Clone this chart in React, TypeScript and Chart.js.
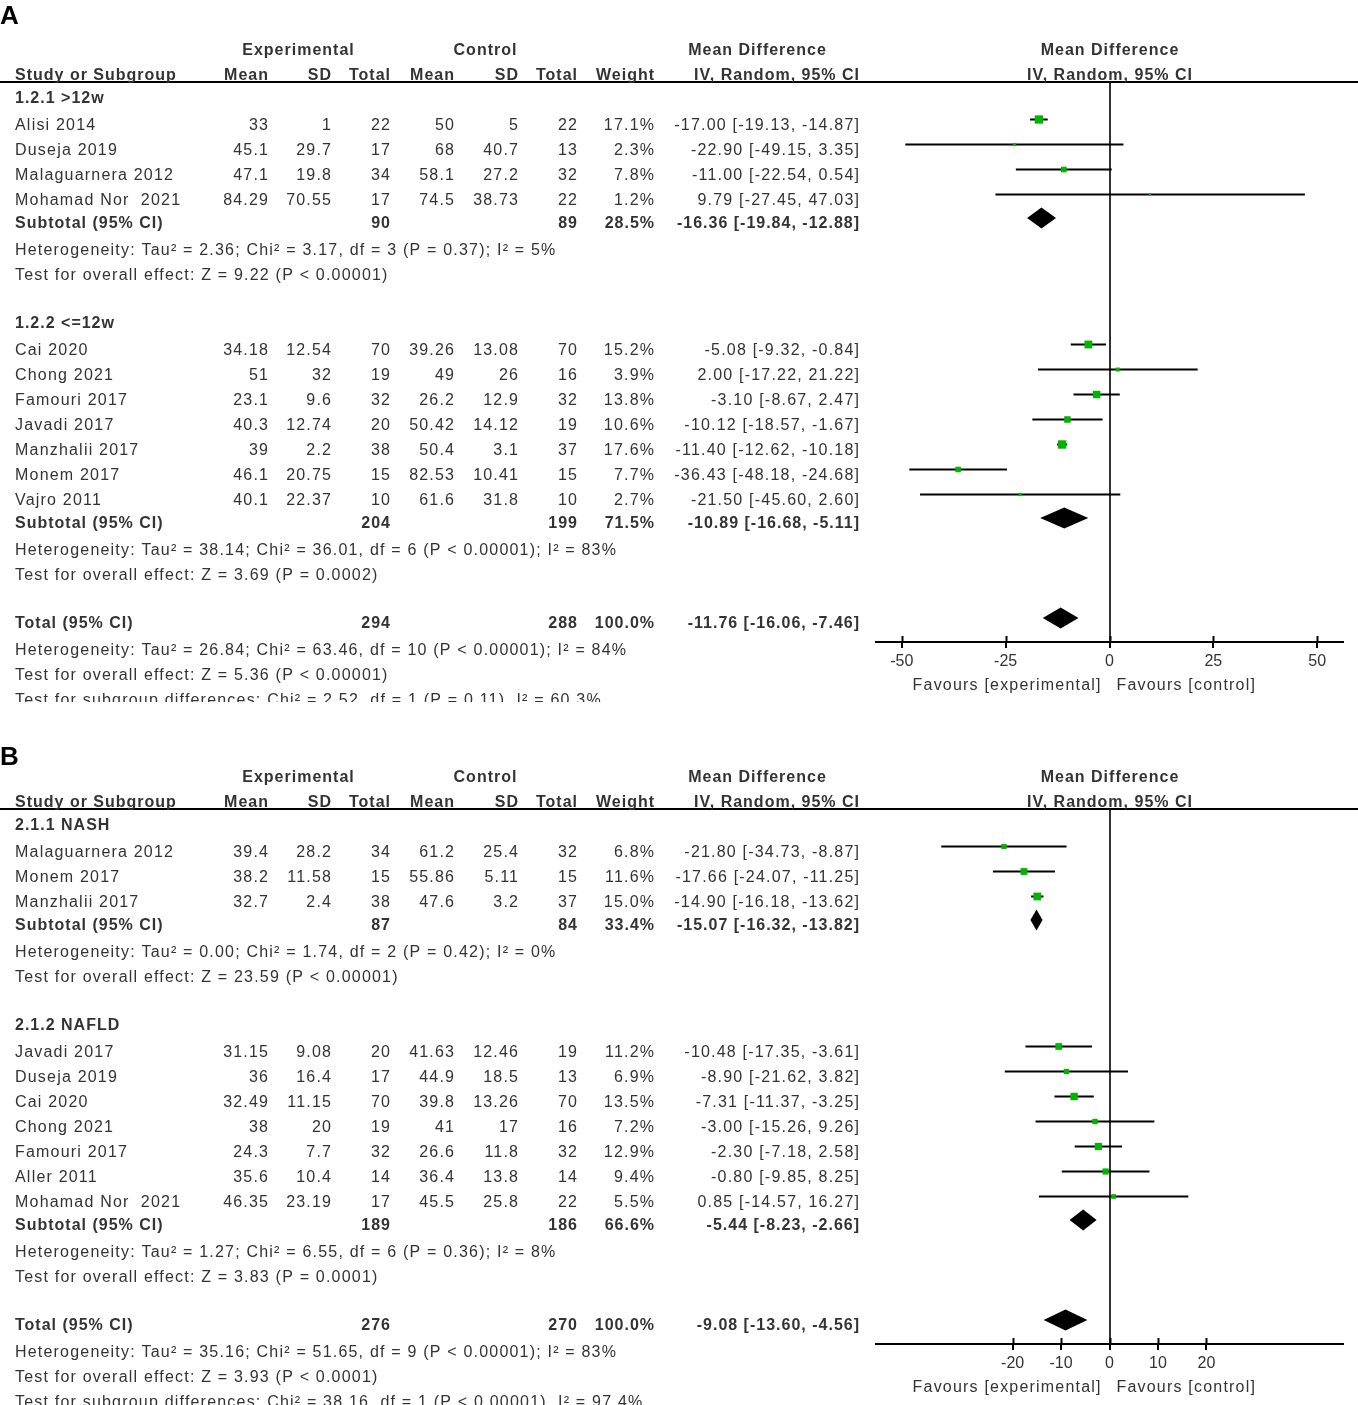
import React, { useEffect, useRef } from "react";
import { Chart, registerables } from "chart.js";

Chart.register(...registerables);

// ---------------- Panel A data ----------------
const A_GROUPS = ["1.2.1 >12w", "1.2.2 <=12w"];
const A_GROUP_SIZES = [4, 7];
const A_STUDIES = [
  "Alisi 2014", "Duseja 2019", "Malaguarnera 2012", "Mohamad Nor  2021",
  "Cai 2020", "Chong 2021", "Famouri 2017", "Javadi 2017", "Manzhalii 2017", "Monem 2017", "Vajro 2011",
];
const A_EXP_MEAN = [33, 45.1, 47.1, 84.29, 34.18, 51, 23.1, 40.3, 39, 46.1, 40.1];
const A_EXP_SD = [1, 29.7, 19.8, 70.55, 12.54, 32, 9.6, 12.74, 2.2, 20.75, 22.37];
const A_EXP_N = [22, 17, 34, 17, 70, 19, 32, 20, 38, 15, 10];
const A_CTL_MEAN = [50, 68, 58.1, 74.5, 39.26, 49, 26.2, 50.42, 50.4, 82.53, 61.6];
const A_CTL_SD = [5, 40.7, 27.2, 38.73, 13.08, 26, 12.9, 14.12, 3.1, 10.41, 31.8];
const A_CTL_N = [22, 13, 32, 22, 70, 16, 32, 19, 37, 15, 10];
const A_WEIGHT = [17.1, 2.3, 7.8, 1.2, 15.2, 3.9, 13.8, 10.6, 17.6, 7.7, 2.7];
const A_MD = [-17.0, -22.9, -11.0, 9.79, -5.08, 2.0, -3.1, -10.12, -11.4, -36.43, -21.5];
const A_LO = [-19.13, -49.15, -22.54, -27.45, -9.32, -17.22, -8.67, -18.57, -12.62, -48.18, -45.6];
const A_HI = [-14.87, 3.35, 0.54, 47.03, -0.84, 21.22, 2.47, -1.67, -10.18, -24.68, 2.6];
const A_SUB_EXP_N = [90, 204];
const A_SUB_CTL_N = [89, 199];
const A_SUB_WEIGHT = [28.5, 71.5];
const A_SUB_MD = [-16.36, -10.89];
const A_SUB_LO = [-19.84, -16.68];
const A_SUB_HI = [-12.88, -5.11];
const A_SUB_NOTES = [
  ["Heterogeneity: Tau² = 2.36; Chi² = 3.17, df = 3 (P = 0.37); I² = 5%", "Test for overall effect: Z = 9.22 (P < 0.00001)"],
  ["Heterogeneity: Tau² = 38.14; Chi² = 36.01, df = 6 (P < 0.00001); I² = 83%", "Test for overall effect: Z = 3.69 (P = 0.0002)"],
];
const A_TOTAL_N = [294, 288];
const A_TOTAL_WEIGHT = 100.0;
const A_TOTAL_CI = [-11.76, -16.06, -7.46];
const A_TOTAL_NOTES = [
  "Heterogeneity: Tau² = 26.84; Chi² = 63.46, df = 10 (P < 0.00001); I² = 84%",
  "Test for overall effect: Z = 5.36 (P < 0.00001)",
  "Test for subgroup differences: Chi² = 2.52, df = 1 (P = 0.11), I² = 60.3%",
];
const A_X_TICKS = [-50, -25, 0, 25, 50];
const A_X_RANGE = [-56.2, 56.2];

// ---------------- Panel B data ----------------
const B_GROUPS = ["2.1.1 NASH", "2.1.2 NAFLD"];
const B_GROUP_SIZES = [3, 7];
const B_STUDIES = [
  "Malaguarnera 2012", "Monem 2017", "Manzhalii 2017",
  "Javadi 2017", "Duseja 2019", "Cai 2020", "Chong 2021", "Famouri 2017", "Aller 2011", "Mohamad Nor  2021",
];
const B_EXP_MEAN = [39.4, 38.2, 32.7, 31.15, 36, 32.49, 38, 24.3, 35.6, 46.35];
const B_EXP_SD = [28.2, 11.58, 2.4, 9.08, 16.4, 11.15, 20, 7.7, 10.4, 23.19];
const B_EXP_N = [34, 15, 38, 20, 17, 70, 19, 32, 14, 17];
const B_CTL_MEAN = [61.2, 55.86, 47.6, 41.63, 44.9, 39.8, 41, 26.6, 36.4, 45.5];
const B_CTL_SD = [25.4, 5.11, 3.2, 12.46, 18.5, 13.26, 17, 11.8, 13.8, 25.8];
const B_CTL_N = [32, 15, 37, 19, 13, 70, 16, 32, 14, 22];
const B_WEIGHT = [6.8, 11.6, 15.0, 11.2, 6.9, 13.5, 7.2, 12.9, 9.4, 5.5];
const B_MD = [-21.8, -17.66, -14.9, -10.48, -8.9, -7.31, -3.0, -2.3, -0.8, 0.85];
const B_LO = [-34.73, -24.07, -16.18, -17.35, -21.62, -11.37, -15.26, -7.18, -9.85, -14.57];
const B_HI = [-8.87, -11.25, -13.62, -3.61, 3.82, -3.25, 9.26, 2.58, 8.25, 16.27];
const B_SUB_EXP_N = [87, 189];
const B_SUB_CTL_N = [84, 186];
const B_SUB_WEIGHT = [33.4, 66.6];
const B_SUB_MD = [-15.07, -5.44];
const B_SUB_LO = [-16.32, -8.23];
const B_SUB_HI = [-13.82, -2.66];
const B_SUB_NOTES = [
  ["Heterogeneity: Tau² = 0.00; Chi² = 1.74, df = 2 (P = 0.42); I² = 0%", "Test for overall effect: Z = 23.59 (P < 0.00001)"],
  ["Heterogeneity: Tau² = 1.27; Chi² = 6.55, df = 6 (P = 0.36); I² = 8%", "Test for overall effect: Z = 3.83 (P = 0.0001)"],
];
const B_TOTAL_N = [276, 270];
const B_TOTAL_WEIGHT = 100.0;
const B_TOTAL_CI = [-9.08, -13.6, -4.56];
const B_TOTAL_NOTES = [
  "Heterogeneity: Tau² = 35.16; Chi² = 51.65, df = 9 (P < 0.00001); I² = 83%",
  "Test for overall effect: Z = 3.93 (P < 0.0001)",
  "Test for subgroup differences: Chi² = 38.16, df = 1 (P < 0.00001), I² = 97.4%",
];
const B_X_TICKS = [-20, -10, 0, 10, 20];
const B_X_RANGE = [-48.2, 48.2];

// ---------------- Shared labels ----------------
const HEAD_TOP = ["Experimental", "Control", "Mean Difference"];
const HEAD_BOTTOM = ["Study or Subgroup", "Mean", "SD", "Total", "Mean", "SD", "Total", "Weight", "IV, Random, 95% CI"];
const PLOT_HEAD = ["Mean Difference", "IV, Random, 95% CI"];
const FAVOURS = ["Favours [experimental]", "Favours [control]"];

// ---------------- Style / layout ----------------
const FONT_FAMILY = '"Liberation Sans", Arial, Helvetica, sans-serif';
const FONT_SIZE = 16;
const LS_REG = 1.2;
const LS_BOLD = 1.0;
const TEXT_COLOR = "#333333";
const SQUARE_COLOR = "#00b400";
const COL = {
  name: 15, expMean: 268, expSD: 331, expN: 390, ctlMean: 454, ctlSD: 518, ctlN: 577,
  weight: 654, ci: 859, expHead: 298, ctlHead: 485, mdHead: 757,
};
const ROW_DY = 10;
const BOLD_DY = 8;
const WIDTH = 1358;
const AREA_TOP = 82;
const ROW_PX = 25;

type Cell = { t: string; x: number; a: "left" | "right" | "center"; b: boolean };
type TextRow = { v: number; dy: number; cells: Cell[] };

function ciText(md: number, lo: number, hi: number) {
  return `${md.toFixed(2)} [${lo.toFixed(2)}, ${hi.toFixed(2)}]`;
}

function buildPanel(src: any) {
  const rows: TextRow[] = [];
  const studies: any[] = [];
  const diamonds: any[] = [];
  let v = 0;
  let s = 0;
  src.groups.forEach((g: string, gi: number) => {
    rows.push({ v, dy: BOLD_DY, cells: [{ t: g, x: COL.name, a: "left", b: true }] });
    v++;
    for (let k = 0; k < src.sizes[gi]; k++, s++, v++) {
      studies.push({ v, md: src.md[s], lo: src.lo[s], hi: src.hi[s], w: src.weight[s] });
      rows.push({
        v, dy: ROW_DY, cells: [
          { t: src.studies[s], x: COL.name, a: "left", b: false },
          { t: String(src.expMean[s]), x: COL.expMean, a: "right", b: false },
          { t: String(src.expSD[s]), x: COL.expSD, a: "right", b: false },
          { t: String(src.expN[s]), x: COL.expN, a: "right", b: false },
          { t: String(src.ctlMean[s]), x: COL.ctlMean, a: "right", b: false },
          { t: String(src.ctlSD[s]), x: COL.ctlSD, a: "right", b: false },
          { t: String(src.ctlN[s]), x: COL.ctlN, a: "right", b: false },
          { t: src.weight[s].toFixed(1) + "%", x: COL.weight, a: "right", b: false },
          { t: ciText(src.md[s], src.lo[s], src.hi[s]), x: COL.ci, a: "right", b: false },
        ],
      });
    }
    diamonds.push({ v, md: src.subMd[gi], lo: src.subLo[gi], hi: src.subHi[gi] });
    rows.push({
      v, dy: BOLD_DY, cells: [
        { t: "Subtotal (95% CI)", x: COL.name, a: "left", b: true },
        { t: String(src.subExpN[gi]), x: COL.expN, a: "right", b: true },
        { t: String(src.subCtlN[gi]), x: COL.ctlN, a: "right", b: true },
        { t: src.subWeight[gi].toFixed(1) + "%", x: COL.weight, a: "right", b: true },
        { t: ciText(src.subMd[gi], src.subLo[gi], src.subHi[gi]), x: COL.ci, a: "right", b: true },
      ],
    });
    v++;
    src.subNotes[gi].forEach((n: string) => {
      rows.push({ v, dy: ROW_DY, cells: [{ t: n, x: COL.name, a: "left", b: false }] });
      v++;
    });
    v++;
  });
  const [tm, tl, th] = src.totalCi;
  diamonds.push({ v, md: tm, lo: tl, hi: th });
  rows.push({
    v, dy: BOLD_DY, cells: [
      { t: "Total (95% CI)", x: COL.name, a: "left", b: true },
      { t: String(src.totalN[0]), x: COL.expN, a: "right", b: true },
      { t: String(src.totalN[1]), x: COL.ctlN, a: "right", b: true },
      { t: src.totalWeight.toFixed(1) + "%", x: COL.weight, a: "right", b: true },
      { t: ciText(tm, tl, th), x: COL.ci, a: "right", b: true },
    ],
  });
  v++;
  src.totalNotes.forEach((n: string) => {
    rows.push({ v, dy: ROW_DY, cells: [{ t: n, x: COL.name, a: "left", b: false }] });
    v++;
  });
  // headers
  rows.push({
    v: -2, dy: ROW_DY, cells: [
      { t: HEAD_TOP[0], x: COL.expHead, a: "center", b: true },
      { t: HEAD_TOP[1], x: COL.ctlHead, a: "center", b: true },
      { t: HEAD_TOP[2], x: COL.mdHead, a: "center", b: true },
    ],
  });
  const hx = [COL.name, COL.expMean, COL.expSD, COL.expN, COL.ctlMean, COL.ctlSD, COL.ctlN, COL.weight, COL.ci];
  rows.push({
    v: -1, dy: ROW_DY, cells: HEAD_BOTTOM.map((t, i) => ({ t, x: hx[i], a: i === 0 ? "left" : "right", b: true } as Cell)),
  });
  return { rows, studies, diamonds };
}

function drawText(ctx: CanvasRenderingContext2D, c: Cell, y: number) {
  const ls = c.b ? LS_BOLD : LS_REG;
  ctx.font = `${c.b ? "bold " : ""}${FONT_SIZE}px ${FONT_FAMILY}`;
  (ctx as any).letterSpacing = `${ls}px`;
  ctx.textAlign = "left";
  ctx.textBaseline = "alphabetic";
  const w = ctx.measureText(c.t).width;
  let x = c.x;
  if (c.a === "right") x = c.x - w + ls;
  else if (c.a === "center") x = c.x - (w - ls) / 2;
  ctx.fillText(c.t, x, y);
}

function makePlugin(panel: any, src: any) {
  return {
    id: "forestTable",
    afterDatasetsDraw(chart: any) {
      const { ctx } = chart;
      const xs = chart.scales.x;
      const ys = chart.scales.y;
      ctx.save();
      ctx.fillStyle = "#000";
      panel.diamonds.forEach((d: any) => {
        const cy = ys.getPixelForValue(d.v - 0.06);
        const top = ys.getPixelForValue(d.v - 0.48);
        const bot = ys.getPixelForValue(d.v + 0.36);
        ctx.beginPath();
        ctx.moveTo(xs.getPixelForValue(d.lo), cy);
        ctx.lineTo(xs.getPixelForValue(d.md), top);
        ctx.lineTo(xs.getPixelForValue(d.hi), cy);
        ctx.lineTo(xs.getPixelForValue(d.md), bot);
        ctx.closePath();
        ctx.fill();
      });
      ctx.restore();
    },
    afterDraw(chart: any) {
      const { ctx, chartArea } = chart;
      const xs = chart.scales.x;
      const ys = chart.scales.y;
      ctx.save();
      // header underline
      ctx.strokeStyle = "#000";
      ctx.lineWidth = 2;
      ctx.beginPath();
      ctx.moveTo(0, chartArea.top);
      ctx.lineTo(chart.width, chartArea.top);
      ctx.stroke();
      // tick stubs above the axis line
      ctx.lineWidth = 2;
      xs.ticks.forEach((t: any) => {
        const px = Math.round(xs.getPixelForValue(t.value)) + 0.5;
        ctx.beginPath();
        ctx.moveTo(px, chartArea.bottom - 6);
        ctx.lineTo(px, chartArea.bottom);
        ctx.stroke();
      });
      // panel letter
      ctx.fillStyle = "#000";
      ctx.font = `bold 26px ${FONT_FAMILY}`;
      (ctx as any).letterSpacing = "0px";
      ctx.textAlign = "left";
      ctx.textBaseline = "alphabetic";
      ctx.fillText(src.letter, 0, src.letterY);
      // table text
      ctx.fillStyle = TEXT_COLOR;
      panel.rows.forEach((r: TextRow) => {
        const y = ys.getPixelForValue(r.v) + r.dy;
        r.cells.forEach((c) => drawText(ctx, c, y));
      });
      // plot headers
      const cx = (chartArea.left + chartArea.right) / 2;
      drawText(ctx, { t: PLOT_HEAD[0], x: cx, a: "center", b: true }, ys.getPixelForValue(-2) + ROW_DY);
      drawText(ctx, { t: PLOT_HEAD[1], x: cx, a: "center", b: true }, ys.getPixelForValue(-1) + ROW_DY);
      // favours labels
      const zx = xs.getPixelForValue(0);
      const fy = chartArea.bottom + 48;
      drawText(ctx, { t: FAVOURS[0], x: zx - 9, a: "right", b: false }, fy);
      drawText(ctx, { t: FAVOURS[1], x: zx + 7, a: "left", b: false }, fy);
      ctx.restore();
    },
  };
}

const PANEL_A = {
  letter: "A", letterY: 24, height: 702, axisBottom: 642,
  groups: A_GROUPS, sizes: A_GROUP_SIZES, studies: A_STUDIES,
  expMean: A_EXP_MEAN, expSD: A_EXP_SD, expN: A_EXP_N,
  ctlMean: A_CTL_MEAN, ctlSD: A_CTL_SD, ctlN: A_CTL_N,
  weight: A_WEIGHT, md: A_MD, lo: A_LO, hi: A_HI,
  subExpN: A_SUB_EXP_N, subCtlN: A_SUB_CTL_N, subWeight: A_SUB_WEIGHT,
  subMd: A_SUB_MD, subLo: A_SUB_LO, subHi: A_SUB_HI, subNotes: A_SUB_NOTES,
  totalN: A_TOTAL_N, totalWeight: A_TOTAL_WEIGHT, totalCi: A_TOTAL_CI, totalNotes: A_TOTAL_NOTES,
  xTicks: A_X_TICKS, xRange: A_X_RANGE,
};

const PANEL_B = {
  letter: "B", letterY: 38, height: 678, axisBottom: 617,
  groups: B_GROUPS, sizes: B_GROUP_SIZES, studies: B_STUDIES,
  expMean: B_EXP_MEAN, expSD: B_EXP_SD, expN: B_EXP_N,
  ctlMean: B_CTL_MEAN, ctlSD: B_CTL_SD, ctlN: B_CTL_N,
  weight: B_WEIGHT, md: B_MD, lo: B_LO, hi: B_HI,
  subExpN: B_SUB_EXP_N, subCtlN: B_SUB_CTL_N, subWeight: B_SUB_WEIGHT,
  subMd: B_SUB_MD, subLo: B_SUB_LO, subHi: B_SUB_HI, subNotes: B_SUB_NOTES,
  totalN: B_TOTAL_N, totalWeight: B_TOTAL_WEIGHT, totalCi: B_TOTAL_CI, totalNotes: B_TOTAL_NOTES,
  xTicks: B_X_TICKS, xRange: B_X_RANGE,
};

function ForestPanel({ src, top }: { src: any; top: number }) {
  const ref = useRef<HTMLCanvasElement>(null);
  useEffect(() => {
    const canvas = ref.current;
    if (!canvas) return;
    const panel = buildPanel(src);
    const yMin = -0.5;
    const yMax = yMin + (src.axisBottom - AREA_TOP) / ROW_PX;
    const ciSets = panel.studies.map((p: any) => ({
      type: "scatter",
      data: [{ x: p.lo, y: p.v }, { x: p.hi, y: p.v }],
      showLine: true,
      borderColor: "#000",
      borderWidth: 2,
      pointRadius: 0,
      pointHoverRadius: 0,
      order: 1,
    }));
    const chart = new Chart(canvas, {
      type: "scatter",
      data: {
        datasets: [
          {
            data: panel.studies.map((p: any) => ({ x: p.md, y: p.v })),
            pointStyle: "rect",
            pointRadius: (c: any) => Math.sqrt(2 * (panel.studies[c.dataIndex]?.w ?? 1)),
            pointHoverRadius: (c: any) => Math.sqrt(2 * (panel.studies[c.dataIndex]?.w ?? 1)),
            backgroundColor: SQUARE_COLOR,
            borderWidth: 0,
            order: 0,
          } as any,
          ...ciSets,
        ],
      },
      options: {
        animation: false,
        responsive: false,
        devicePixelRatio: 1,
        events: [],
        layout: { padding: { left: 876, right: 15, top: AREA_TOP, bottom: 0 } },
        plugins: { legend: { display: false }, tooltip: { enabled: false }, title: { display: false } },
        scales: {
          x: {
            type: "linear",
            min: src.xRange[0],
            max: src.xRange[1],
            afterBuildTicks: (axis: any) => {
              axis.ticks = src.xTicks.map((v: number) => ({ value: v }));
            },
            afterFit: (axis: any) => {
              axis.height = src.height - src.axisBottom;
            },
            ticks: {
              autoSkip: false,
              maxRotation: 0,
              padding: 4,
              color: TEXT_COLOR,
              font: { family: FONT_FAMILY, size: FONT_SIZE },
              callback: (v: any) => String(v),
            },
            grid: {
              color: (c: any) => (c.tick && c.tick.value === 0 ? "#333" : "rgba(0,0,0,0)"),
              lineWidth: 2,
              drawTicks: true,
              tickLength: 6,
              tickColor: "#000",
              tickWidth: 2,
            },
            border: { display: true, color: "#000", width: 2 },
          },
          y: { type: "linear", display: false, reverse: true, min: yMin, max: yMax },
        },
      } as any,
      plugins: [makePlugin(panel, src) as any],
    });
    return () => chart.destroy();
  }, [src]);
  return (
    <canvas
      ref={ref}
      width={WIDTH}
      height={src.height}
      style={{ position: "absolute", left: 0, top, width: WIDTH, height: src.height }}
    />
  );
}

export default function App() {
  return (
    <div style={{ position: "absolute", left: 0, top: 0, width: WIDTH, height: 1405, background: "#fff", overflow: "hidden" }}>
      <ForestPanel src={PANEL_A} top={0} />
      <ForestPanel src={PANEL_B} top={727} />
    </div>
  );
}
